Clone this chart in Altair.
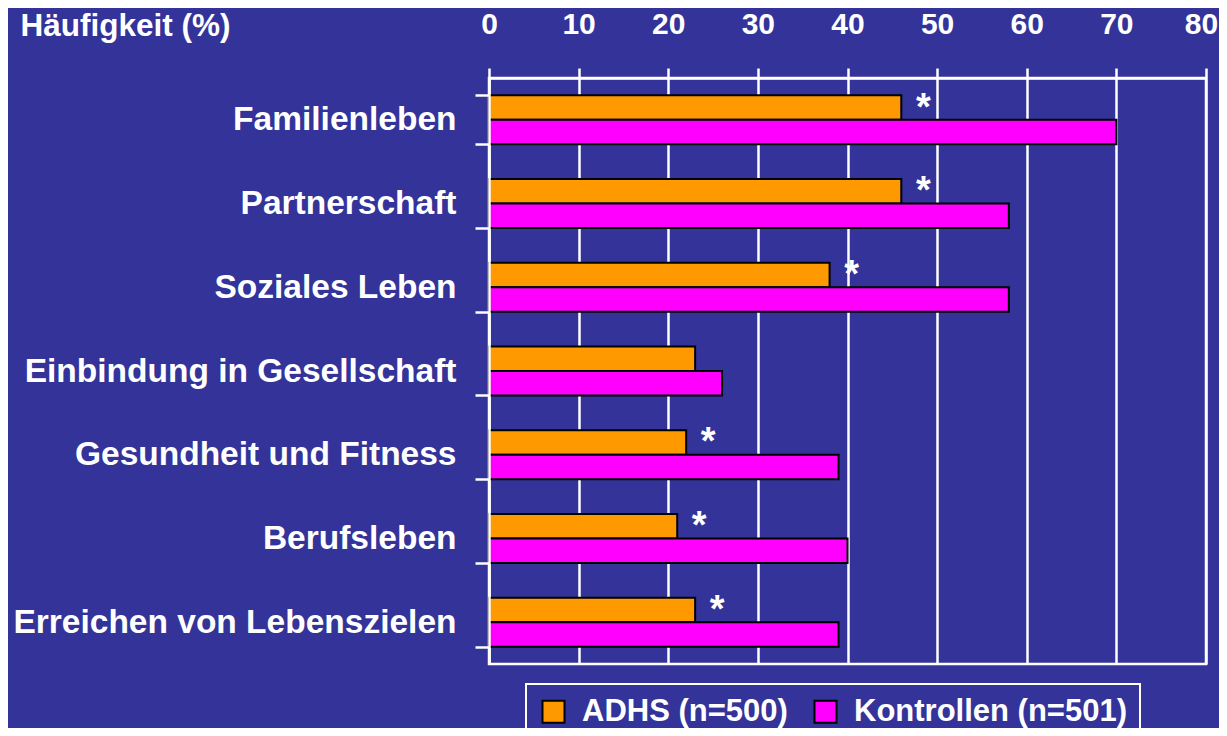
import altair as alt
import pandas as pd

categories = [
    "Familienleben",
    "Partnerschaft",
    "Soziales Leben",
    "Einbindung in Gesellschaft",
    "Gesundheit und Fitness",
    "Berufsleben",
    "Erreichen von Lebenszielen",
]
adhs = [46, 46, 38, 23, 22, 21, 23]
kontrollen = [70, 58, 58, 26, 39, 40, 39]
significant = [True, True, True, False, True, True, True]
series = ["ADHS (n=500)", "Kontrollen (n=501)"]
series_colors = ["#FF9900", "#FF00FF"]
x_ticks = [0, 10, 20, 30, 40, 50, 60, 70, 80]

rows = []
for c, a, k in zip(categories, adhs, kontrollen):
    rows.append({"Bereich": c, "Gruppe": series[0], "Wert": a})
    rows.append({"Bereich": c, "Gruppe": series[1], "Wert": k})
bars_df = pd.DataFrame(rows)

star_df = pd.DataFrame(
    [
        {"Bereich": c, "Gruppe": series[0], "Wert": a, "Mark": "*"}
        for c, a, s in zip(categories, adhs, significant)
        if s
    ]
)

FONT = "Liberation Sans"
BG = "#333399"

y_enc = alt.Y(
    "Bereich:N",
    sort=categories,
    scale=alt.Scale(paddingInner=0.415, paddingOuter=0.2075),
    axis=alt.Axis(
        title=None,
        orient="left",
        tickBand="extent",
        tickSize=14,
        tickWidth=2.5,
        tickColor="white",
        domainColor="white",
        domainWidth=2.5,
        labelFont=FONT,
        labelFontSize=33.5,
        labelFontWeight="bold",
        labelColor="white",
        labelPadding=19,
        labelLimit=800,
        labelBaseline="middle",
        grid=False,
        zindex=1,
    ),
)

yoff = alt.YOffset("Gruppe:N", sort=series, scale=alt.Scale(domain=series))

x_enc = alt.X(
    "Wert:Q",
    scale=alt.Scale(domain=[0, 80], nice=False),
    axis=alt.Axis(
        orient="top",
        values=x_ticks,
        title="Häufigkeit (%)",
        titleX=-469,
        titleY=-43,
        titleAlign="left",
        titleBaseline="alphabetic",
        titleFont=FONT,
        titleFontSize=31.5,
        titleFontWeight="bold",
        titleColor="white",
        tickSize=10,
        tickWidth=2.5,
        tickColor="white",
        domainColor="white",
        domainWidth=2.5,
        labelFont=FONT,
        labelFontSize=30,
        labelFontWeight="bold",
        labelColor="white",
        labelPadding=35,
        labelBaseline="alphabetic",
        labelFlush=False,
        labelOffset={"condition": {"test": "datum.value == 80", "value": -5}, "value": 0},
        grid=True,
        gridColor="white",
        gridWidth=2.5,
        gridOpacity=1,
    ),
)

bars = alt.Chart(bars_df).mark_bar(stroke="black", strokeWidth=2, opacity=1).encode(
    x=x_enc,
    y=y_enc,
    yOffset=yoff,
    color=alt.Color(
        "Gruppe:N",
        sort=series,
        scale=alt.Scale(domain=series, range=series_colors),
        legend=alt.Legend(
            title=None,
            orient="none",
            legendX=37,
            legendY=606,
            direction="horizontal",
            symbolType="square",
            symbolSize=484,
            symbolStrokeColor="black",
            symbolStrokeWidth=2,
            symbolOpacity=1,
            labelFont=FONT,
            labelFontSize=31,
            labelFontWeight="bold",
            labelColor="white",
            labelOffset=13,
            labelLimit=600,
            columnPadding=22,
            padding=12,
            strokeColor="white",
        ),
    ),
)

stars = alt.Chart(star_df).mark_text(
    font=FONT,
    fontSize=38,
    fontWeight="bold",
    color="white",
    align="center",
    baseline="alphabetic",
    dx=22,
    dy=12,
).encode(
    x=alt.X("Wert:Q"),
    y=alt.Y("Bereich:N", sort=categories),
    yOffset=alt.YOffset("Gruppe:N", sort=series),
    text="Mark:N",
)

chart = (
    alt.layer(bars, stars)
    .properties(
        width=717,
        height=586,
        background=BG,
        autosize=alt.AutoSizeParams(type="none"),
        padding={"left": 481, "top": 70, "right": 13, "bottom": 64},
    )
    .configure_view(stroke="white", strokeWidth=2.5)
    .configure_legend(strokeWidth=2)
)

chart.save("out.html", embed_options={"renderer": "svg", "actions": False})
